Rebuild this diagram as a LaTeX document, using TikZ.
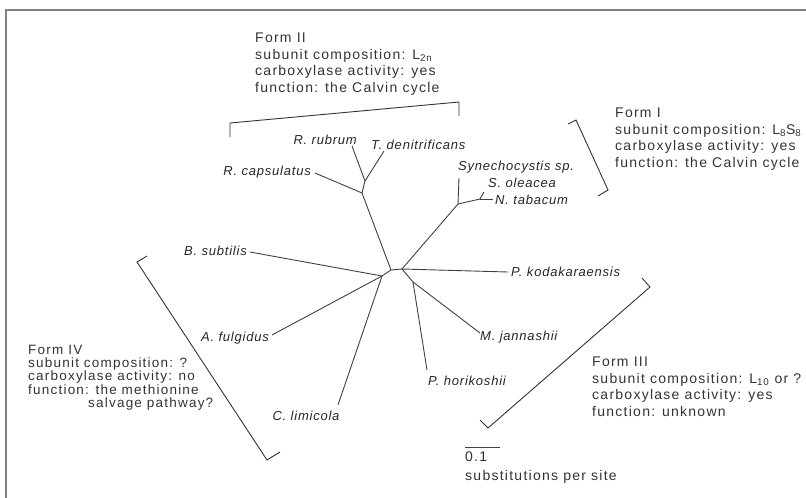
\documentclass[tikz,border=0pt]{standalone}
\usepackage{fontspec}
\setmainfont{Liberation Sans}
\newfontfamily\formfont[LetterSpace=9]{Liberation Sans}
\newfontfamily\specfont[LetterSpace=6]{Liberation Sans}
\usetikzlibrary{positioning}

\tikzset{
  formtext/.style={align=left, inner sep=0pt, anchor=north west, text=black!80,
    font=\formfont\fontsize{14}{16.5}\selectfont},
  species/.style={inner sep=1pt, text=black!85,
    font=\specfont\itshape\fontsize{13}{15}\selectfont},
  branch/.style={draw=black!75, line width=0.9pt},
  bracket/.style={draw=black!80, line width=0.9pt, line join=miter},
}

\begin{document}
\begin{tikzpicture}[x=1pt,y=-1pt]
\useasboundingbox (0,0) rectangle (806,498);
\draw[gray, line width=1.6pt] (806,10) -- (6,10) -- (6,498);

% inner nodes of the tree
\coordinate (A) at (391,270);
\coordinate (B) at (402,269);
\coordinate (C0) at (382,276);
\coordinate (RC) at (362,193);
\coordinate (RT) at (365,181);
\coordinate (SY) at (458,204);
\coordinate (SO) at (480,199);
\coordinate (MP) at (413,282);

% tips
\coordinate (t-rcap) at (315,173);
\coordinate (t-rrub) at (352,146);
\coordinate (t-tden) at (384,151);
\coordinate (t-syn) at (459,178);
\coordinate (t-sol) at (484,192);
\coordinate (t-ntab) at (493,199);
\coordinate (t-pkod) at (508,272);
\coordinate (t-mjan) at (480,333);
\coordinate (t-phor) at (427,370);
\coordinate (t-ccli) at (338,405);
\coordinate (t-aful) at (272,335);
\coordinate (t-bsub) at (250,252);

\begin{scope}[every node/.style={species}]
  \node (rcap) [anchor=east] at (312,172) {R. capsulatus};
  \node (rrub) [anchor=south east] at (358,146) {R. rubrum};
  \node (tden) [anchor=south west] at (370,151) {T. denitrificans};
  \node (syn) [anchor=south west] at (457,174) {Synechocystis sp.};
  \node (sol) [anchor=west] at (487,183) {S. oleacea};
  \node (ntab) [anchor=west] at (494,200) {N. tabacum};
  \node (pkod) [anchor=west] at (510,272) {P. kodakaraensis};
  \node (mjan) [anchor=north west] at (479,330) {M. jannashii};
  \node (phor) [anchor=north] at (467,375) {P. horikoshii};
  \node (ccli) [anchor=north] at (306,410) {C. limicola};
  \node (aful) [anchor=east] at (270,338) {A. fulgidus};
  \node (bsub) [anchor=east] at (248,251) {B. subtilis};
\end{scope}

\begin{scope}[every edge/.style={branch}]
  \path (A) edge (B);
  \path (A) edge (RC);
  \path (RC) edge (t-rcap);
  \path (RC) edge (RT);
  \path (RT) edge (t-rrub);
  \path (RT) edge (t-tden);
  \path (B) edge (SY);
  \path (SY) edge (t-syn);
  \path (SY) edge (SO);
  \path (SO) edge (t-sol);
  \path (SO) edge (t-ntab);
  \path (B) edge (t-pkod);
  \path (B) edge (MP);
  \path (MP) edge (t-mjan);
  \path (MP) edge (t-phor);
  \path (A) edge (C0);
  \path (C0) edge (t-bsub);
  \path (C0) edge (t-aful);
  \path (C0) edge (t-ccli);
\end{scope}

% brackets of the four forms
\draw[bracket] (230,137) -- (230,123) -- (459,102) -- (459,116);
\draw[bracket] (568,124) -- (576,120) -- (608,190) -- (598,196);
\draw[bracket] (642,278) -- (650,287) -- (488,428) -- (480,420);
\draw[bracket] (147,256) -- (137,262) -- (267,460) -- (280,452);

\node (form2) [formtext] at (255,33)
  {Form II\\subunit composition: L\textsubscript{2n}\\carboxylase activity: yes\\function: the Calvin cycle};
\node (form1) [formtext] at (615,108)
  {Form I\\subunit composition: L\textsubscript{8}S\textsubscript{8}\\carboxylase activity: yes\\function: the Calvin cycle};
\node (form3) [formtext] at (592,357)
  {Form III\\subunit composition: L\textsubscript{10} or ?\\carboxylase activity: yes\\function: unknown};
\node (form4) [formtext, font=\formfont\fontsize{13.5}{13.2}\selectfont] at (28,345)
  {Form IV\\subunit composition: ?\\carboxylase activity: no\\function: the methionine\\\hspace*{60pt}salvage pathway?};

% scale bar
\coordinate (sb1) at (465,447);
\coordinate (sb2) at (500,447);
\draw[branch] (sb1) -- (sb2);
\node (sbval) [formtext] at (465,452) {0.1};
\node (sbtxt) [formtext] at (465,470) {substitutions per site};
\end{tikzpicture}
\end{document}
